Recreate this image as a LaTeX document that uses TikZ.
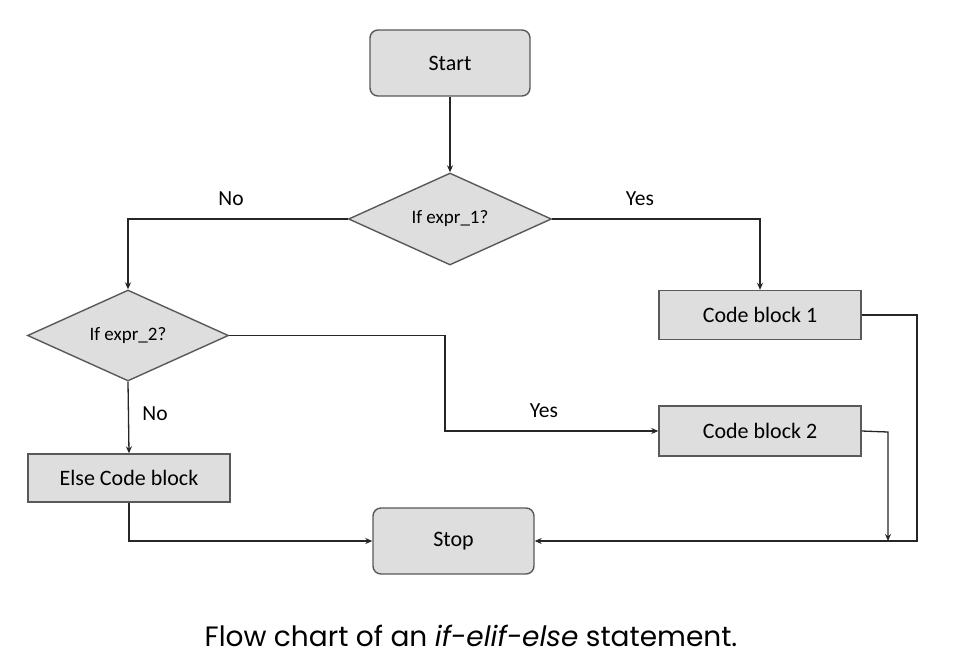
\documentclass[tikz,border=0pt]{standalone}
\usepackage{fontspec}
\setmainfont{Carlito}
\newfontfamily\capfont{Poppins}
\usetikzlibrary{arrows.meta,shapes.geometric}
\begin{document}
\begin{tikzpicture}[x=1pt,y=-1pt,
  boxstyle/.style={draw=black!65,line width=1.4pt,fill=black!13,inner sep=0pt,font=\fontsize{22}{26}\selectfont},
  termbox/.style={boxstyle,rounded corners=8pt,minimum width=160pt,minimum height=66pt},
  codebox/.style={boxstyle,minimum width=202pt,minimum height=49pt},
  decision/.style={boxstyle,diamond,aspect=2.2,minimum width=203pt,minimum height=92pt,font=\fontsize{19}{22}\selectfont},
  conn/.style={draw=black!85,line width=1.3pt},
  arr/.style={conn,-{Stealth[length=7pt,width=6pt]}},
  lbl/.style={font=\fontsize{21.5}{25}\selectfont}]
\useasboundingbox (0,0) rectangle (956,657);
\fill[white] (0,0) rectangle (956,657);
\node[termbox] (start) at (450,63) {Start};
\node[decision] (d1) at (450,219) {If expr\_1?};
\node[codebox] (c1) at (760,315) {Code block 1};
\node[decision,minimum width=201pt,minimum height=91pt] (d2) at (128,335.5) {If expr\_2?};
\node[codebox,minimum height=50pt] (c2) at (760,431) {Code block 2};
\node[codebox,minimum width=202pt,minimum height=48pt] (else) at (129,478) {Else Code block};
\node[termbox,minimum width=161pt] (stop) at (453.5,541) {Stop};
\coordinate (j1) at (917,315);
\coordinate (j2) at (888,432);
\draw[arr] (start) -- (d1);
\draw[arr] (d1.west) -| (d2.north);
\draw[arr] (d1.east) -| (c1.north);
\draw[arr] (d2.south) -- (else.north);
\draw[arr] (d2.east) -- (445,335.5) |- (c2.west);
\draw[arr] (else.south) |- (stop.west);
\draw[arr] (c1.east) -- (j1) |- (stop.east);
\draw[arr] (c2.east) -- (j2) -- (888,541);
\node[lbl] (no1) at (231,199) {No};
\node[lbl] (yes1) at (640,199) {Yes};
\node[lbl] (yes2) at (544,411) {Yes};
\node[lbl] (no2) at (155,414) {No};
\node[font=\capfont\fontsize{28}{32}\selectfont] (cap) at (471,636) {Flow chart of an \textit{if-elif-else} statement.};
\end{tikzpicture}
\end{document}
